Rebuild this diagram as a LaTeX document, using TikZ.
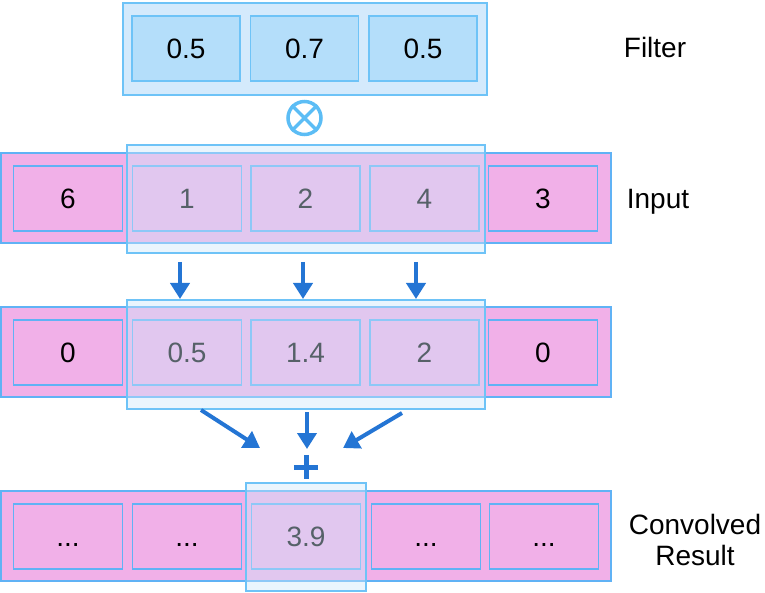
\documentclass[tikz,border=0pt]{standalone}
\usepackage{fontspec}
\setmainfont{Liberation Sans}
\usetikzlibrary{arrows.meta}
\definecolor{pinkc}{RGB}{241,176,232}
\definecolor{pinkborder}{RGB}{96,178,245}
\definecolor{filterouter}{RGB}{212,234,252}
\definecolor{filtercell}{RGB}{180,222,250}
\definecolor{filterborder}{RGB}{110,195,247}
\definecolor{overlayc}{RGB}{205,232,250}
\definecolor{arrowc}{RGB}{36,117,212}
\definecolor{opc}{RGB}{92,189,245}
\tikzset{
  txt/.style={font=\fontsize{28}{31}\selectfont},
  rowbox/.style={draw=pinkborder, fill=pinkc, line width=1.3pt, inner sep=0pt, minimum height=90pt},
  cell/.style={draw=pinkborder, fill=pinkc, line width=1.3pt, inner sep=0pt, minimum width=109pt, minimum height=65pt, text height=20pt, text depth=0pt, txt},
  fcell/.style={draw=filterborder, fill=filtercell, line width=1.3pt, inner sep=0pt, minimum width=108pt, minimum height=65pt, text height=20pt, text depth=0pt, txt},
  fouter/.style={draw=filterborder, fill=filterouter, line width=1.3pt, inner sep=0pt, minimum width=364pt, minimum height=92pt},
  overlay/.style={draw=filterborder, fill=overlayc, fill opacity=0.42, draw opacity=1, line width=1.3pt, inner sep=0pt},
  arr/.style={draw=arrowc, line width=4pt, -{Triangle[width=19pt,length=16pt]}},
  lbl/.style={txt, align=center},
}
\begin{document}
\begin{tikzpicture}[x=1pt,y=-1pt]
\useasboundingbox (0,0) rectangle (765,593);
% Filter
\node[fouter] (fbox) at (305,49) {};
\node[fcell] (f1) at (186,48.5) {0.5};
\node[fcell] (f2) at (304.5,48.5) {0.7};
\node[fcell] (f3) at (423,48.5) {0.5};
\node[lbl, text height=20pt, text depth=0pt] (flabel) at (655,48) {Filter};
% otimes
\node[draw=opc, line width=3.5pt, circle, minimum size=33pt, inner sep=0pt] (op) at (304.5,118) {};
\draw[opc, line width=3.5pt] (op.north west) -- (op.south east) (op.north east) -- (op.south west);
% Input row
\node[rowbox, minimum width=610pt] (inrow) at (306,198) {};
\node[cell] (i1) at (68,198.5) {6};
\node[cell] (i2) at (187,198.5) {1};
\node[cell] (i3) at (305.5,198.5) {2};
\node[cell] (i4) at (424.5,198.5) {4};
\node[cell] (i5) at (543,198.5) {3};
\node[overlay, minimum width=358pt, minimum height=108pt] (inov) at (306,199) {};
\node[lbl, text height=20pt, text depth=0pt] (inlabel) at (658,199) {Input};
% arrows down
\coordinate (a1s) at (180,262); \coordinate (a1e) at (180,299);
\coordinate (a2s) at (303,262); \coordinate (a2e) at (303,299);
\coordinate (a3s) at (416,262); \coordinate (a3e) at (416,299);
\draw[arr] (a1s) -- (a1e);
\draw[arr] (a2s) -- (a2e);
\draw[arr] (a3s) -- (a3e);
% Product row
\node[rowbox, minimum width=610pt] (prow) at (306,352) {};
\node[cell] (p1) at (68,352.5) {0};
\node[cell] (p2) at (187,352.5) {0.5};
\node[cell] (p3) at (305.5,352.5) {1.4};
\node[cell] (p4) at (424.5,352.5) {2};
\node[cell] (p5) at (543,352.5) {0};
\node[overlay, minimum width=358pt, minimum height=109pt] (pov) at (306,354.5) {};
% arrows to plus
\coordinate (b1s) at (201,410); \coordinate (b1e) at (260,448);
\coordinate (b2s) at (307,412); \coordinate (b2e) at (307,449);
\coordinate (b3s) at (402,413); \coordinate (b3e) at (343,448);
\draw[arr] (b1s) -- (b1e);
\draw[arr] (b2s) -- (b2e);
\draw[arr] (b3s) -- (b3e);
% plus
\node[inner sep=0pt, minimum size=24pt] (plus) at (306,467) {};
\draw[arrowc, line width=5pt] (plus.west) -- (plus.east) (plus.north) -- (plus.south);
% Result row
\node[rowbox, minimum width=610pt] (rrow) at (306,536) {};
\node[cell] (r1) at (68,536.5) {...};
\node[cell] (r2) at (187,536.5) {...};
\node[cell] (r3) at (306,536.5) {3.9};
\node[cell] (r4) at (426,536.5) {...};
\node[cell] (r5) at (544,536.5) {...};
\node[overlay, minimum width=120pt, minimum height=108pt] (rov) at (306,537) {};
\node[lbl] (rlabel) at (695,540) {Convolved\\Result};
\end{tikzpicture}
\end{document}
